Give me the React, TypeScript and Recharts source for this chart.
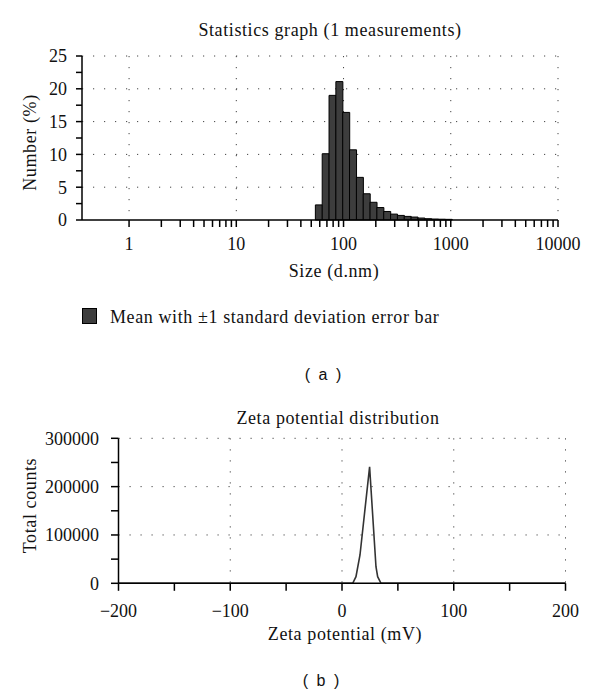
import React from "react";
import {
  ComposedChart,
  LineChart,
  Bar,
  Line,
  XAxis,
  YAxis,
  CartesianGrid,
} from "recharts";

// (a) size distribution: non-zero Malvern size classes (d.nm) and their number %
const sizeNm = [
  58.77, 68.06, 78.82, 91.28, 105.7, 122.4, 141.8, 164.2, 190.1, 220.2, 255.0,
  295.3, 342.0, 396.1, 458.7, 531.2, 615.1, 712.4, 825.0, 955.4,
];
const numberPct = [
  2.3, 10.1, 19.0, 21.1, 16.4, 10.7, 6.5, 4.0, 2.7, 1.9, 1.3, 0.9, 0.7, 0.55,
  0.45, 0.3, 0.2, 0.15, 0.12, 0.1,
];
const sizeTicks = [
  1, 2, 3, 4, 5, 6, 7, 8, 9, 10, 20, 30, 40, 50, 60, 70, 80, 90, 100, 200, 300,
  400, 500, 600, 700, 800, 900, 1000, 2000, 3000, 4000, 5000, 6000, 7000, 8000,
  9000, 10000,
];
const sizeGrid = [1, 10, 100, 1000, 10000];
const pctTicks = [0, 2.5, 5, 7.5, 10, 12.5, 15, 17.5, 20, 22.5, 25];
const pctGrid = [5, 10, 15, 20, 25];

// (b) zeta potential
const zetaMv = [-200, 9.6, 12.5, 16.1, 24.7, 30.4, 31.9, 34.9, 200];
const zetaCounts = [0, 0, 13700, 58600, 241000, 34300, 13700, 0, 0];
const mvTicks = [-200, -150, -100, -50, 0, 50, 100, 150, 200];
const mvGrid = [-100, 0, 100, 200];
const countTicks = [0, 50000, 100000, 150000, 200000, 250000, 300000];
const countGrid = [100000, 200000, 300000];

const sizeData = sizeNm.map((size, i) => ({ size, pct: numberPct[i] }));
const zetaData = zetaMv.map((mv, i) => ({ mv, counts: zetaCounts[i] }));

const SERIF = "'Liberation Serif', 'Times New Roman', serif";
const SANS = "'Liberation Sans', Arial, sans-serif";
const tickStyle = { fill: "#111", fontSize: 18, fontFamily: SERIF };
const axisLine = { stroke: "#000", strokeWidth: 1.5 };
const gridProps = { stroke: "#444", strokeDasharray: "1.2 9.8" };
const labelStyle: React.CSSProperties = {
  fontFamily: SERIF,
  fontSize: 18,
  fill: "#111",
  letterSpacing: 0.6,
};

const isDecade = (v: number) => Math.abs(Math.log10(v) - Math.round(Math.log10(v))) < 1e-9;
const minus = (v: number) => (v < 0 ? "\u2212" + Math.abs(v) : String(v));

export default function App() {
  return (
    <div
      style={{
        position: "absolute",
        left: 0,
        top: 0,
        width: 600,
        height: 696,
        background: "#fff",
      }}
    >
      <div style={{ position: "absolute", left: 0, top: 0 }}>
        <ComposedChart
          width={600}
          height={300}
          data={sizeData}
          margin={{ top: 56, right: 42, bottom: 50, left: 22 }}
          barCategoryGap={0}
          barGap={0}
        >
          <CartesianGrid
            {...gridProps}
            horizontalValues={pctGrid}
            verticalValues={sizeGrid}
          />
          <XAxis
            dataKey="size"
            type="number"
            scale="log"
            domain={[0.364, 10000]}
            allowDataOverflow
            ticks={sizeTicks}
            interval={0}
            tickFormatter={(v: number) => (isDecade(v) ? String(v) : "")}
            tick={tickStyle}
            axisLine={axisLine}
            tickLine={axisLine}
            tickSize={7}
            tickMargin={10}
            height={30}
          />
          <YAxis
            type="number"
            domain={[0, 25]}
            ticks={pctTicks}
            interval={0}
            tickFormatter={(v: number) => (v % 5 === 0 ? String(v) : "")}
            tick={tickStyle}
            axisLine={axisLine}
            tickLine={axisLine}
            tickSize={6}
            tickMargin={9}
            width={60}
          />
          <Bar
            dataKey="pct"
            fill="#3d3d3d"
            stroke="#000"
            strokeWidth={1}
            isAnimationActive={false}
          />
        </ComposedChart>
      </div>

      <div style={{ position: "absolute", left: 0, top: 380 }}>
        <LineChart
          width={600}
          height={260}
          data={zetaData}
          margin={{ top: 58.3, right: 34.5, bottom: 26.7, left: 38.5 }}
        >
          <CartesianGrid
            {...gridProps}
            horizontalValues={countGrid}
            verticalValues={mvGrid}
          />
          <XAxis
            dataKey="mv"
            type="number"
            domain={[-200, 200]}
            ticks={mvTicks}
            interval={0}
            tickFormatter={(v: number) => (v % 100 === 0 ? minus(v) : "")}
            tick={tickStyle}
            axisLine={axisLine}
            tickLine={axisLine}
            tickSize={7.5}
            tickMargin={13}
            height={30}
          />
          <YAxis
            type="number"
            domain={[0, 300000]}
            ticks={countTicks}
            interval={0}
            tickFormatter={(v: number) => (v % 100000 === 0 ? String(v) : "")}
            tick={tickStyle}
            axisLine={axisLine}
            tickLine={axisLine}
            tickSize={7.5}
            tickMargin={12}
            width={80}
          />
          <Line
            type="linear"
            dataKey="counts"
            stroke="#333"
            strokeWidth={1.6}
            dot={false}
            isAnimationActive={false}
          />
        </LineChart>
      </div>

      <svg
        width={600}
        height={696}
        style={{ position: "absolute", left: 0, top: 0, pointerEvents: "none" }}
      >
        <text x={330} y={36} textAnchor="middle" style={labelStyle}>
          Statistics graph (1 measurements)
        </text>
        <text
          transform="translate(35.5,142.5) rotate(-90)"
          textAnchor="middle"
          style={labelStyle}
        >
          Number (%)
        </text>
        <text x={334} y={277} textAnchor="middle" style={labelStyle}>
          Size (d.nm)
        </text>
        <rect x={82.5} y={308.5} width={14} height={15} fill="#3d3d3d" stroke="#000" />
        <text x={110} y={323} style={labelStyle}>
          Mean with ±1 standard deviation error bar
        </text>
        <text
          x={324}
          y={380}
          textAnchor="middle"
          style={{ fontFamily: SANS, fontSize: 16, fill: "#111", letterSpacing: 2 }}
        >
          ( a )
        </text>

        <text x={338} y={424} textAnchor="middle" style={labelStyle}>
          Zeta potential distribution
        </text>
        <text
          transform="translate(35.5,505.5) rotate(-90)"
          textAnchor="middle"
          style={labelStyle}
        >
          Total counts
        </text>
        <text x={345} y={640} textAnchor="middle" style={labelStyle}>
          Zeta potential (mV)
        </text>
        <text
          x={322}
          y={686}
          textAnchor="middle"
          style={{ fontFamily: SANS, fontSize: 16, fill: "#111", letterSpacing: 2 }}
        >
          ( b )
        </text>
      </svg>
    </div>
  );
}
